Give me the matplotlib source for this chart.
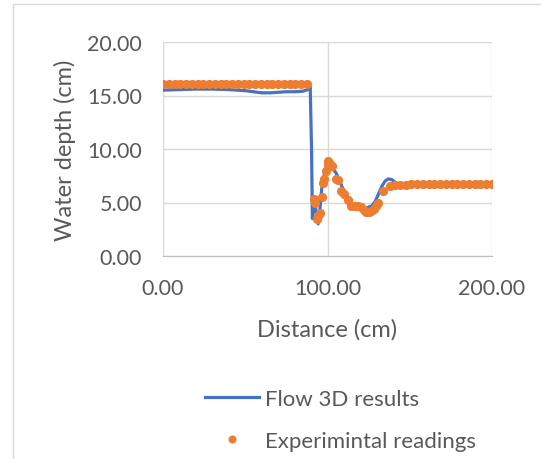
import matplotlib
matplotlib.use("Agg")
from matplotlib import pyplot as plt
from matplotlib.patches import Rectangle

plt.rcParams['font.family'] = ['Lato', 'DejaVu Sans']

# Flow 3D simulation profile (distance cm, depth cm)
flow_x = [0, 10, 20, 30, 40, 50, 55, 60, 65, 70, 75, 80, 85, 88, 89.5, 90.3, 90.8,
          91.5, 92.2, 93, 94.3, 95.2, 96.5, 98, 99.5, 101.5, 103, 105, 107, 109, 111,
          113, 115, 118, 121, 124, 127, 129, 131, 133, 135, 137, 139, 141, 143, 146,
          150, 155, 165, 200]
flow_y = [15.5, 15.55, 15.6, 15.6, 15.55, 15.45, 15.35, 15.25, 15.25, 15.3, 15.35, 15.35,
          15.4, 15.55, 15.8, 10.0, 3.5, 4.5, 5.3, 4.2, 3.0, 4.0, 6.3, 7.6, 8.1, 8.3, 8.2,
          7.8, 7.2, 6.4, 5.7, 5.1, 4.8, 4.6, 4.5, 4.5, 4.7, 5.1, 5.8, 6.5, 7.0, 7.2, 7.15,
          6.9, 6.7, 6.6, 6.6, 6.65, 6.7, 6.7]

# experimental readings
exp_x = [0, 3.5, 7, 10.5, 14, 17.5, 21, 24.5, 28, 31.5, 35, 38.5, 42, 45.5, 49, 52.5,
         56, 59.5, 63, 66.5, 70, 73.5, 77, 80.5, 84, 87.5,
         91.5, 92.5, 93.5, 94.5, 95.5, 96.5, 97.5, 98, 99, 100, 100.5, 101.5, 102.5,
         105, 106.5, 108.5, 110, 112.5, 114.5, 116.5, 118.5, 120.5, 122, 123.5, 125,
         126.5, 128, 129.5, 131, 134, 138, 141, 144, 147.5, 151, 154.5, 158, 161.5,
         165, 168.5, 172, 175.5, 179, 182.5, 186, 189.5, 193, 196.5, 200]
exp_y = [16.1] * 26 + [
    5.3, 5.0, 3.5, 3.7, 4.0, 5.5, 6.8, 7.2, 7.9, 8.5, 8.9, 8.6, 8.4,
    7.2, 7.1, 6.1, 5.8, 5.2, 4.7, 4.7, 4.7, 4.6, 4.3, 4.1, 4.1,
    4.2, 4.4, 4.7, 5.0, 6.1, 6.5, 6.6, 6.6, 6.65, 6.7, 6.7, 6.7, 6.7,
    6.7, 6.7, 6.7, 6.7, 6.7, 6.7, 6.7, 6.7, 6.7, 6.7, 6.7]

y_ticks = [0, 5, 10, 15, 20]
x_ticks = [0, 100, 200]

text_col = '#595959'
grid_col = '#D9D9D9'

fig = plt.figure(figsize=(5.41, 4.60), dpi=100)
fig.patches.append(Rectangle((13 / 541, -0.1), 1.2, 1.1 - 5 / 460,
                             transform=fig.transFigure, fill=False,
                             edgecolor='#D9D9D9', lw=1.0))

ax = fig.add_axes([163 / 541, 1 - 257 / 460, 329 / 541, 214 / 460])
ax.plot(flow_x, flow_y, color='#4472C4', lw=2.3, label='Flow 3D results',
        solid_joinstyle='round', zorder=3)
ax.plot(exp_x, exp_y, ls='none', marker='o', ms=5.6, color='#ED7D31',
        label='Experimintal readings', zorder=4)

ax.set_xlim(0, 200)
ax.set_ylim(0, 20)
ax.set_xticks(x_ticks)
ax.set_yticks(y_ticks)
ax.set_xticklabels([f'{v:.2f}' for v in x_ticks])
ax.set_yticklabels([f'{v:.2f}' for v in y_ticks])
ax.grid(True, color=grid_col, lw=1.0, zorder=0)
ax.set_axisbelow(True)
for side in ['top', 'right', 'left']:
    ax.spines[side].set_visible(False)
ax.spines['bottom'].set_color('#BFBFBF')
ax.tick_params(length=0, labelsize=15.5, labelcolor=text_col)
ax.tick_params(axis='y', pad=15)
ax.tick_params(axis='x', pad=16)

ax.set_xlabel('Distance (cm)', fontsize=17, color=text_col, labelpad=14)
ax.set_ylabel('Water depth (cm)', fontsize=17, color=text_col, labelpad=8)

leg = fig.legend(loc='center left', bbox_to_anchor=(205 / 541, 1 - 421 / 460),
                 frameon=False, fontsize=16, labelcolor=text_col, handlelength=2.45,
                 handletextpad=0.25, labelspacing=1.0, borderpad=0, borderaxespad=0,
                 markerscale=0.85)

fig.savefig('out.png', dpi=100)
